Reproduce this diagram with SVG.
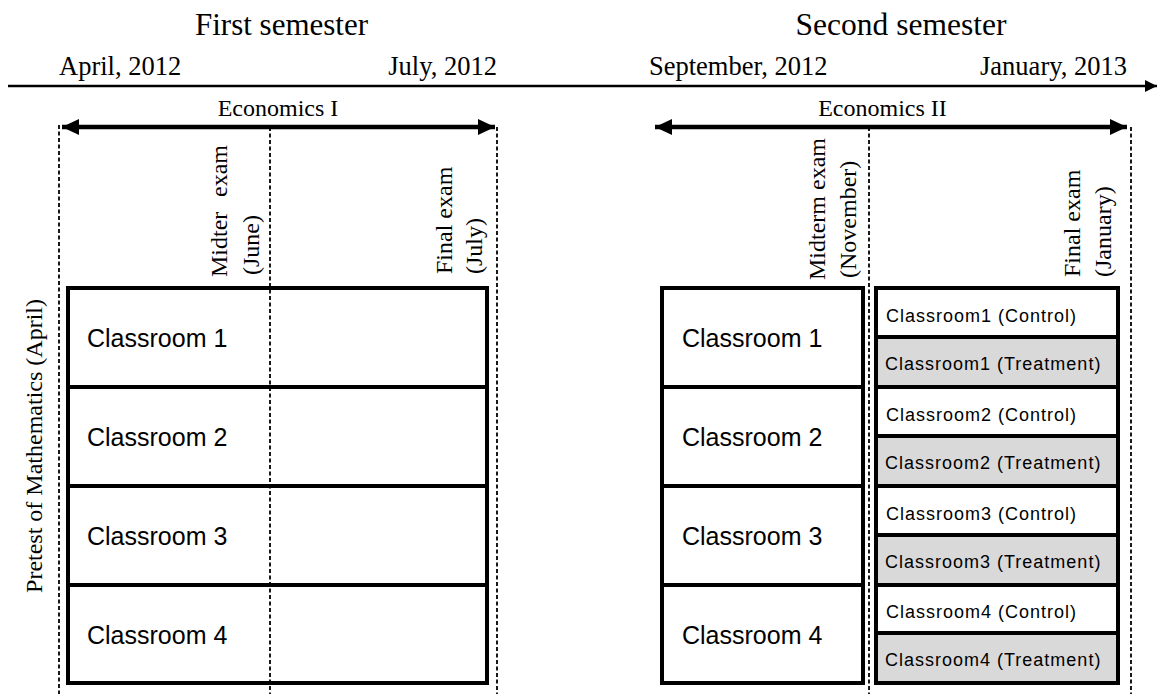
<svg xmlns="http://www.w3.org/2000/svg" width="1157" height="694" viewBox="0 0 1157 694">
<style>
.serif{font-family:"Liberation Serif","Times New Roman",serif;fill:#000}
.sans{font-family:"Liberation Sans",Arial,sans-serif;fill:#000}
.big{font-size:25px}
.small{font-size:18px;letter-spacing:1px}
.box{fill:#fff;stroke:#000;stroke-width:4}
.gray{fill:#d9d9d9;stroke:#000;stroke-width:4}
.dash{stroke:#000;stroke-width:1.8;stroke-dasharray:4 2.5;fill:none}
.vt{font-size:24px}
</style>
<defs>
<marker id="tl" markerUnits="userSpaceOnUse" markerWidth="12" markerHeight="14" refX="12" refY="7" orient="auto">
<path d="M0,1 L12,7 L0,13 Z" fill="#000"/>
</marker>
<marker id="ah" markerUnits="userSpaceOnUse" markerWidth="17" markerHeight="18" refX="17" refY="9" orient="auto-start-reverse">
<path d="M0,1 L17,9 L0,17 Z" fill="#000"/>
</marker>
</defs>

<g id="headers">
<text class="serif" x="281.5" y="35" font-size="31" text-anchor="middle">First semester</text>
<text class="serif" x="901" y="35" font-size="31.5" text-anchor="middle">Second semester</text>
<text class="serif" x="59" y="75" font-size="26.5">April, 2012</text>
<text class="serif" x="497" y="75" font-size="26.5" text-anchor="end">July, 2012</text>
<text class="serif" x="649" y="75" font-size="26.5">September, 2012</text>
<text class="serif" x="1127" y="75" font-size="26.5" text-anchor="end">January, 2013</text>
<text class="serif" x="278" y="116" font-size="24" text-anchor="middle">Economics I</text>
<text class="serif" x="882.5" y="116" font-size="24" text-anchor="middle">Economics II</text>
</g>

<g id="connectors">
<line x1="8" y1="86" x2="1157" y2="86" stroke="#000" stroke-width="2.6" marker-end="url(#tl)"/>
<line x1="62" y1="127" x2="495" y2="127" stroke="#000" stroke-width="4.5" marker-start="url(#ah)" marker-end="url(#ah)"/>
<line x1="655" y1="127" x2="1127" y2="127" stroke="#000" stroke-width="4.5" marker-start="url(#ah)" marker-end="url(#ah)"/>
</g>

<g id="vertical-labels">
<text class="serif vt" transform="translate(42,446) rotate(-90)" text-anchor="middle">Pretest of Mathematics (April)</text>
<text class="serif vt" transform="translate(227,277) rotate(-90)">Midter<tspan x="80">exam</tspan></text>
<text class="serif vt" transform="translate(259,275) rotate(-90)">(June)</text>
<text class="serif vt" transform="translate(452,274) rotate(-90)">Final exam</text>
<text class="serif vt" transform="translate(482,274) rotate(-90)">(July)</text>
<text class="serif vt" transform="translate(825,280) rotate(-90)">Midterm exam</text>
<text class="serif vt" transform="translate(855.5,278) rotate(-90)">(November)</text>
<text class="serif vt" transform="translate(1080,277) rotate(-90)">Final exam</text>
<text class="serif vt" transform="translate(1111,277) rotate(-90)">(January)</text>
</g>

<g id="sem1-classroom1"><rect class="box" x="68" y="288" width="419" height="99"/><text class="sans big" x="87" y="347">Classroom 1</text></g>
<g id="sem1-classroom2"><rect class="box" x="68" y="387" width="419" height="99"/><text class="sans big" x="87" y="446">Classroom 2</text></g>
<g id="sem1-classroom3"><rect class="box" x="68" y="486" width="419" height="99"/><text class="sans big" x="87" y="545">Classroom 3</text></g>
<g id="sem1-classroom4"><rect class="box" x="68" y="585" width="419" height="98"/><text class="sans big" x="87" y="644">Classroom 4</text></g>

<g id="sem2-classroom1"><rect class="box" x="662" y="288" width="201" height="99"/><text class="sans big" x="682" y="347">Classroom 1</text></g>
<g id="sem2-classroom2"><rect class="box" x="662" y="387" width="201" height="99"/><text class="sans big" x="682" y="446">Classroom 2</text></g>
<g id="sem2-classroom3"><rect class="box" x="662" y="486" width="201" height="99"/><text class="sans big" x="682" y="545">Classroom 3</text></g>
<g id="sem2-classroom4"><rect class="box" x="662" y="585" width="201" height="98"/><text class="sans big" x="682" y="644">Classroom 4</text></g>

<g id="c1-control"><rect class="box" x="876" y="288" width="242" height="49"/><text class="sans small" x="886" y="322">Classroom1 (Control)</text></g>
<g id="c1-treatment"><rect class="gray" x="876" y="337" width="242" height="50"/><text class="sans small" x="885" y="370">Classroom1 (Treatment)</text></g>
<g id="c2-control"><rect class="box" x="876" y="387" width="242" height="49"/><text class="sans small" x="886" y="421">Classroom2 (Control)</text></g>
<g id="c2-treatment"><rect class="gray" x="876" y="436" width="242" height="50"/><text class="sans small" x="885" y="469">Classroom2 (Treatment)</text></g>
<g id="c3-control"><rect class="box" x="876" y="486" width="242" height="49"/><text class="sans small" x="886" y="520">Classroom3 (Control)</text></g>
<g id="c3-treatment"><rect class="gray" x="876" y="535" width="242" height="50"/><text class="sans small" x="885" y="568">Classroom3 (Treatment)</text></g>
<g id="c4-control"><rect class="box" x="876" y="585" width="242" height="48"/><text class="sans small" x="886" y="618">Classroom4 (Control)</text></g>
<g id="c4-treatment"><rect class="gray" x="876" y="633" width="242" height="50"/><text class="sans small" x="885" y="666">Classroom4 (Treatment)</text></g>

<g id="dashed-guides">
<line class="dash" x1="59" y1="125" x2="59" y2="694"/>
<line class="dash" x1="270" y1="127" x2="270" y2="694"/>
<line class="dash" x1="497" y1="127" x2="497" y2="694"/>
<line class="dash" x1="869" y1="127" x2="869" y2="694"/>
<line class="dash" x1="1131" y1="127" x2="1131" y2="694"/>
</g>
</svg>
